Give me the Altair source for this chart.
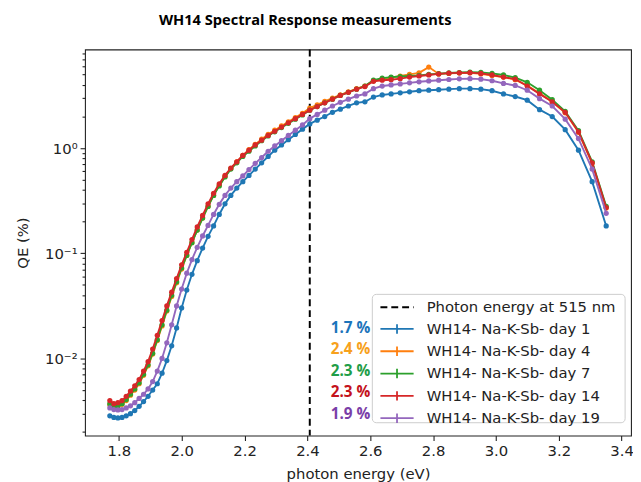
import altair as alt
import pandas as pd

# photon energies (eV) of the measurement points (700 nm ... 370 nm in 5 nm steps)
energy = [1.7712, 1.7840, 1.7969, 1.8100, 1.8233, 1.8368, 1.8505, 1.8644, 1.8785, 1.8929,
          1.9075, 1.9222, 1.9373, 1.9525, 1.9680, 1.9837, 1.9997, 2.0160, 2.0325, 2.0493,
          2.0664, 2.0838, 2.1014, 2.1194, 2.1377, 2.1562, 2.1752, 2.1944, 2.2140, 2.2339,
          2.2543, 2.2750, 2.2960, 2.3175, 2.3393, 2.3616, 2.3843, 2.4075, 2.4311, 2.4551,
          2.4797, 2.5047, 2.5303, 2.5564, 2.5830, 2.6102, 2.6380, 2.6663, 2.6953, 2.7249,
          2.7552, 2.7862, 2.8178, 2.8502, 2.8834, 2.9173, 2.9520, 2.9876, 3.0240, 3.0613,
          3.0996, 3.1388, 3.1791, 3.2204, 3.2627, 3.3062, 3.3509]

qe_day1 = [0.00285, 0.00275, 0.00272, 0.00275, 0.00285, 0.00299, 0.00320, 0.00351, 0.00389, 0.00437,
           0.00501, 0.00575, 0.00724, 0.00955, 0.0132, 0.0195, 0.0302, 0.0447, 0.0631, 0.0851,
           0.112, 0.145, 0.182, 0.234, 0.295, 0.355, 0.417, 0.479, 0.550, 0.631,
           0.724, 0.832, 0.955, 1.072, 1.202, 1.349, 1.514, 1.698, 1.841, 1.995,
           2.188, 2.344, 2.512, 2.692, 2.754, 3.055, 3.199, 3.273, 3.350, 3.428,
           3.508, 3.548, 3.589, 3.631, 3.673, 3.673, 3.631, 3.508, 3.273, 3.090,
           2.851, 2.317, 1.995, 1.496, 0.955, 0.479, 0.182]

qe_day4 = [0.00363, 0.00347, 0.00351, 0.00367, 0.00398, 0.00447, 0.00501, 0.00575, 0.00692, 0.00851,
           0.0110, 0.0148, 0.0204, 0.0282, 0.0389, 0.0525, 0.0708, 0.0955, 0.126, 0.166,
           0.216, 0.279, 0.355, 0.442, 0.537, 0.638, 0.741, 0.851, 0.966, 1.084,
           1.216, 1.349, 1.479, 1.622, 1.778, 1.950, 2.138, 2.399, 2.570, 2.786,
           2.985, 3.199, 3.428, 3.673, 3.890, 4.365, 4.519, 4.677, 4.842, 5.012,
           5.188, 5.888, 5.070, 5.129, 5.176, 5.188, 5.070, 4.898, 4.732, 4.467,
           3.936, 3.311, 2.754, 2.163, 1.413, 0.716, 0.269]

qe_day7 = [0.00372, 0.00351, 0.00355, 0.00372, 0.00407, 0.00457, 0.00513, 0.00589, 0.00708, 0.00871,
           0.0112, 0.0151, 0.0209, 0.0288, 0.0398, 0.0537, 0.0724, 0.0955, 0.126, 0.166,
           0.216, 0.279, 0.355, 0.437, 0.531, 0.631, 0.724, 0.832, 0.933, 1.047,
           1.175, 1.303, 1.429, 1.567, 1.718, 1.884, 2.065, 2.291, 2.483, 2.692,
           2.917, 3.162, 3.388, 3.631, 3.890, 4.416, 4.624, 4.732, 4.786, 4.842,
           4.898, 5.012, 5.093, 5.176, 5.224, 5.272, 5.248, 5.129, 4.955, 4.677,
           4.217, 3.548, 2.884, 2.239, 1.462, 0.741, 0.279]

qe_day14 = [0.00398, 0.00372, 0.00380, 0.00398, 0.00437, 0.00490, 0.00550, 0.00631, 0.00759, 0.00933,
            0.0123, 0.0166, 0.0229, 0.0316, 0.0427, 0.0575, 0.0776, 0.102, 0.135, 0.178,
            0.229, 0.295, 0.372, 0.457, 0.550, 0.646, 0.741, 0.851, 0.955, 1.072,
            1.189, 1.318, 1.445, 1.585, 1.738, 1.905, 2.089, 2.291, 2.483, 2.692,
            2.917, 3.162, 3.388, 3.631, 3.846, 4.315, 4.416, 4.467, 4.571, 4.732,
            4.842, 4.955, 5.070, 5.152, 5.188, 5.212, 5.129, 4.955, 4.732, 4.519,
            3.890, 3.273, 2.754, 2.188, 1.429, 0.724, 0.272]

qe_day19 = [0.00339, 0.00327, 0.00324, 0.00327, 0.00339, 0.00355, 0.00380, 0.00417, 0.00457, 0.00513,
            0.00603, 0.00759, 0.0100, 0.0141, 0.0209, 0.0316, 0.0457, 0.0646, 0.0871, 0.114,
            0.146, 0.184, 0.234, 0.292, 0.355, 0.417, 0.479, 0.543, 0.624, 0.716,
            0.813, 0.933, 1.047, 1.175, 1.318, 1.479, 1.660, 1.905, 2.089, 2.291,
            2.512, 2.723, 2.917, 3.126, 3.273, 3.673, 3.890, 3.981, 4.074, 4.169,
            4.266, 4.345, 4.416, 4.487, 4.550, 4.571, 4.519, 4.365, 4.121, 3.936,
            3.548, 2.951, 2.512, 1.884, 1.230, 0.631, 0.240]

series_names = ["WH14- Na-K-Sb- day 1", "WH14- Na-K-Sb- day 4", "WH14- Na-K-Sb- day 7",
                "WH14- Na-K-Sb- day 14", "WH14- Na-K-Sb- day 19"]
series_colors = ["#1f77b4", "#ff7f0e", "#2ca02c", "#d62728", "#9467bd"]
qe_series = [qe_day1, qe_day4, qe_day7, qe_day14, qe_day19]

pct_labels = ["1.7 %", "2.4 %", "2.3 %", "2.3 %", "1.9 %"]
pct_colors = ["#1c74bb", "#f7a11c", "#1f9e48", "#c4121c", "#7a3ea8"]

marker_energy = [2.4075]
marker_label = ["Photon energy at 515 nm"]

title_text = ["WH14 Spectral Response measurements"]

x_ticks = [1.8, 2.0, 2.2, 2.4, 2.6, 2.8, 3.0, 3.2, 3.4]
y_ticks = [0.002, 0.003, 0.004, 0.005, 0.006, 0.007, 0.008, 0.009,
           0.01, 0.02, 0.03, 0.04, 0.05, 0.06, 0.07, 0.08, 0.09,
           0.1, 0.2, 0.3, 0.4, 0.5, 0.6, 0.7, 0.8, 0.9,
           1, 2, 3, 4, 5, 6, 7, 8]

major = "datum.value == 1 || datum.value == 0.1 || datum.value == 0.01"

x_enc = alt.X("energy:Q",
              scale=alt.Scale(domain=[1.6922, 3.4299], nice=False, zero=False),
              axis=alt.Axis(values=x_ticks, format=".1f", title="photon energy (eV)",
                            tickSize=5, labelPadding=3, titlePadding=8))
y_enc = alt.Y("qe:Q",
              scale=alt.Scale(type="log", domain=[0.00185, 8.65], nice=False),
              axis=alt.Axis(values=y_ticks, title="QE (%)", labelOverlap=False,
                            labelExpr="datum.value == 1 ? '10⁰' : datum.value == 0.1 ? '10⁻¹' : datum.value == 0.01 ? '10⁻²' : ''",
                            tickSize={"condition": {"test": major, "value": 5}, "value": 3},
                            labelPadding=3, titlePadding=14))

color_scale = alt.Scale(domain=series_names, range=series_colors)
color_legend = alt.Legend(title=None, orient="none", legendX=307, legendY=274,
                          symbolType="M-2.1,0H2.1M0,-0.6V0.6", symbolSize=256,
                          symbolStrokeWidth=1.8, symbolFillColor="transparent",
                          labelFont="DejaVu Sans", labelFontSize=15, labelColor="#222222",
                          labelOffset=21, labelLimit=400, rowPadding=4.6, padding=0)

layers = []

# dashed 515 nm marker
rule_df = pd.DataFrame({"energy": marker_energy, "label": marker_label})
rule = alt.Chart(rule_df).mark_rule(color="black", strokeWidth=2).encode(
    x=x_enc,
    strokeDash=alt.StrokeDash("label:N",
                              scale=alt.Scale(domain=marker_label, range=[[7, 4]]),
                              legend=alt.Legend(title=None, orient="none", legendX=307, legendY=252,
                                                symbolType="M-2.1,0H2.1", symbolSize=256,
                                                symbolStrokeWidth=2, symbolStrokeColor="black",
                                                labelFont="DejaVu Sans", labelFontSize=15,
                                                labelColor="#222222", labelOffset=21,
                                                labelLimit=400, padding=0))
)

for name, col, vals in zip(series_names, series_colors, qe_series):
    df = pd.DataFrame({"energy": energy, "qe": vals, "series": name})
    line = alt.Chart(df).mark_line(strokeWidth=1.9, clip=True).encode(
        x=x_enc, y=y_enc,
        color=alt.Color("series:N", scale=color_scale, legend=color_legend))
    pts = alt.Chart(df).mark_circle(size=28, color=col, opacity=1, clip=True).encode(
        x=x_enc, y=y_enc)
    layers += [line, pts]

# legend frame
box = alt.Chart(pd.DataFrame({"a": [0]})).mark_rect(
    fill="white", fillOpacity=0.8, stroke="#cccccc", strokeWidth=1, cornerRadius=4
).encode(x=alt.value(291), x2=alt.value(547), y=alt.value(248), y2=alt.value(378))

texts = []
for i, (lab, col) in enumerate(zip(pct_labels, pct_colors)):
    t = alt.Chart(pd.DataFrame({"t": [lab]})).mark_text(
        align="right", baseline="middle", font="Open Sans", fontSize=15.5,
        fontWeight="bold", color=col
    ).encode(text="t:N", x=alt.value(289), y=alt.value(282 + i * 21.75))
    texts.append(t)

title_mark = alt.Chart(pd.DataFrame({"t": title_text})).mark_text(
    align="center", baseline="middle", font="Open Sans", fontSize=14.8,
    fontWeight="bold", color="black"
).encode(text="t:N", x=alt.value(223), y=alt.value(-29))

chart = alt.layer(rule, *layers, box, *texts, title_mark).properties(
    width=553, height=391,
    autosize=alt.AutoSizeParams(type="none"),
    padding={"left": 78, "top": 39, "right": 2, "bottom": 44},
).configure_view(stroke="#222222", strokeWidth=1.1).configure_axis(
    labelFont="DejaVu Sans", titleFont="DejaVu Sans", labelFontSize=15, titleFontSize=15,
    titleFontWeight="normal", labelColor="#222222", titleColor="#222222",
    tickColor="#222222", tickWidth=1.1, domain=False, grid=False
)

chart.save("out.html", embed_options={"renderer": "svg", "actions": False})
